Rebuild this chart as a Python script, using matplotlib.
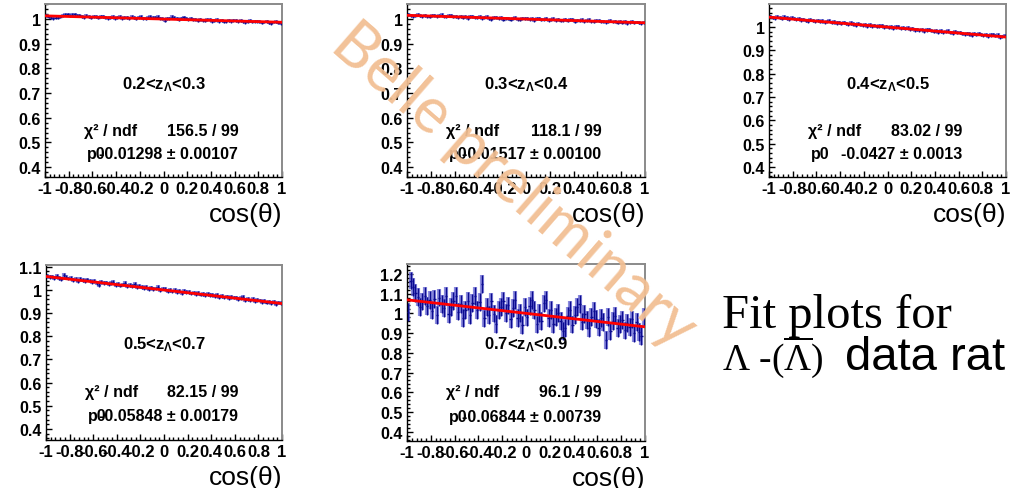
import numpy as np
import matplotlib
matplotlib.use("Agg")
import matplotlib.pyplot as plt
from matplotlib.ticker import MultipleLocator, FixedLocator, FuncFormatter

plt.rcParams['font.family'] = ['Liberation Sans', 'DejaVu Sans']
plt.rcParams['mathtext.fontset'] = 'custom'
plt.rcParams['mathtext.rm'] = 'Liberation Sans'
plt.rcParams['mathtext.it'] = 'Liberation Sans:italic'
plt.rcParams['mathtext.bf'] = 'Liberation Sans:bold'

# ---------------- data ----------------
n_bins = 100
x_low, x_high = -1.0, 1.0

z_labels = ["0.2<z$_\\mathregular{Λ}$<0.3", "0.3<z$_\\mathregular{Λ}$<0.4",
            "0.4<z$_\\mathregular{Λ}$<0.5", "0.5<z$_\\mathregular{Λ}$<0.7",
            "0.7<z$_\\mathregular{Λ}$<0.9"]
chi2_text = ["156.5 / 99", "118.1 / 99", "83.02 / 99", "82.15 / 99", "96.1 / 99"]
p0_values = [-0.01298, -0.01517, -0.0427, -0.05848, -0.06844]
p0_text = ["-0.01298 ± 0.00107", "-0.01517 ± 0.00100", "-0.0427 ± 0.0013",
           "-0.05848 ± 0.00179", "-0.06844 ± 0.00739"]
bin_errors = [0.006, 0.006, 0.007, 0.008, 0.045]
y_limits = [(0.360, 1.061), (0.360, 1.061), (0.357, 1.099), (0.352, 1.108), (0.353, 1.250)]
y_tick_values = [[0.4, 0.5, 0.6, 0.7, 0.8, 0.9, 1.0],
                 [0.4, 0.5, 0.6, 0.7, 0.8, 0.9, 1.0],
                 [0.4, 0.5, 0.6, 0.7, 0.8, 0.9, 1.0],
                 [0.4, 0.5, 0.6, 0.7, 0.8, 0.9, 1.0, 1.1],
                 [0.4, 0.5, 0.6, 0.7, 0.8, 0.9, 1.0, 1.1, 1.2]]
x_tick_values = [-1, -0.8, -0.6, -0.4, -0.2, 0, 0.2, 0.4, 0.6, 0.8, 1]

ratio_z23 = [
    1.015, 1.010, 1.006, 1.004, 1.005, 1.006, 1.009, 1.015, 1.018, 1.020,
    1.014, 1.017, 1.019, 1.013, 1.016, 1.011, 1.008, 1.013, 1.009, 1.006,
    1.010, 1.009, 1.006, 1.011, 1.012, 1.007, 1.003, 1.006, 1.009, 1.003,
    1.006, 1.009, 1.003, 1.005, 1.008, 1.004, 1.009, 1.006, 1.001, 1.008,
    1.009, 1.004, 1.001, 1.006, 1.010, 1.005, 1.007, 1.010, 1.004, 1.001,
    0.994, 1.002, 1.004, 1.009, 1.006, 1.003, 0.998, 1.004, 1.007, 1.003,
    0.999, 1.003, 0.998, 0.999, 0.994, 1.000, 0.996, 0.993, 0.997, 0.998,
    0.991, 0.994, 0.998, 0.992, 0.995, 0.989, 0.991, 0.995, 0.991, 0.995,
    0.996, 0.991, 0.994, 0.992, 0.987, 0.990, 0.993, 0.988, 0.992, 0.991,
    0.990, 0.985, 0.988, 0.991, 0.986, 0.983, 0.988, 0.990, 0.985, 0.982]

ratio_z34 = [
    1.019, 1.016, 1.012, 1.014, 1.017, 1.013, 1.011, 1.015, 1.012, 1.010,
    1.013, 1.016, 1.011, 1.014, 1.017, 1.012, 1.009, 1.013, 1.015, 1.010,
    1.012, 1.008, 1.011, 1.006, 1.009, 1.004, 1.010, 1.012, 1.007, 1.005,
    1.009, 1.003, 1.007, 1.010, 1.004, 1.000, 1.006, 1.008, 1.003, 1.005,
    0.998, 1.004, 1.001, 0.997, 1.003, 1.006, 1.000, 0.998, 1.003, 1.001,
    1.004, 0.999, 1.002, 0.996, 1.001, 1.003, 0.997, 1.000, 1.004, 0.995,
    0.998, 1.001, 0.995, 0.999, 0.993, 0.996, 1.000, 0.994, 0.997, 0.999,
    0.990, 0.996, 0.993, 0.997, 0.991, 0.994, 0.998, 0.992, 0.989, 0.994,
    0.993, 0.989, 0.992, 0.987, 0.990, 0.994, 0.988, 0.991, 0.986, 0.990,
    0.985, 0.989, 0.983, 0.987, 0.990, 0.984, 0.988, 0.986, 0.983, 0.987]

ratio_z45 = [
    1.046, 1.040, 1.037, 1.044, 1.041, 1.036, 1.043, 1.039, 1.035, 1.040,
    1.038, 1.033, 1.036, 1.030, 1.034, 1.028, 1.026, 1.032, 1.029, 1.025,
    1.029, 1.023, 1.026, 1.020, 1.024, 1.027, 1.019, 1.022, 1.017, 1.021,
    1.014, 1.020, 1.016, 1.012, 1.018, 1.013, 1.008, 1.014, 1.011, 1.007,
    1.011, 1.005, 1.009, 1.003, 1.007, 1.001, 1.005, 1.008, 0.999, 1.003,
    0.997, 1.002, 0.996, 1.000, 1.004, 0.995, 0.998, 0.993, 0.997, 0.990,
    0.994, 0.988, 0.991, 0.986, 0.989, 0.983, 0.987, 0.990, 0.984, 0.981,
    0.985, 0.979, 0.983, 0.977, 0.981, 0.984, 0.978, 0.975, 0.980, 0.976,
    0.977, 0.972, 0.969, 0.974, 0.970, 0.966, 0.971, 0.968, 0.973, 0.969,
    0.964, 0.968, 0.962, 0.966, 0.969, 0.963, 0.967, 0.958, 0.961, 0.964]

ratio_z57 = [
    1.062, 1.055, 1.058, 1.051, 1.060, 1.053, 1.049, 1.064, 1.055, 1.050,
    1.052, 1.043, 1.047, 1.040, 1.049, 1.044, 1.038, 1.046, 1.041, 1.035,
    1.038, 1.031, 1.022, 1.035, 1.029, 1.033, 1.026, 1.030, 1.035, 1.023,
    1.027, 1.019, 1.024, 1.032, 1.018, 1.022, 1.016, 1.026, 1.012, 1.018,
    1.014, 1.008, 1.013, 1.005, 1.011, 1.003, 1.007, 1.012, 1.000, 1.006,
    1.003, 0.996, 1.001, 0.994, 0.999, 0.992, 0.997, 0.988, 0.995, 0.990,
    0.991, 0.985, 0.989, 0.982, 0.986, 0.980, 0.984, 0.977, 0.983, 0.979,
    0.979, 0.973, 0.977, 0.970, 0.974, 0.968, 0.972, 0.965, 0.971, 0.967,
    0.968, 0.961, 0.965, 0.971, 0.957, 0.962, 0.955, 0.960, 0.953, 0.958,
    0.955, 0.949, 0.952, 0.946, 0.950, 0.944, 0.948, 0.941, 0.946, 0.943]

ratio_z79 = [
    1.008, 1.166, 1.135, 1.104, 1.082, 1.031, 1.060, 1.088, 1.037, 1.066,
    1.014, 1.073, 0.991, 1.080, 1.049, 1.027, 1.086, 0.995, 1.033, 1.062,
    1.090, 1.009, 1.048, 0.976, 1.015, 1.064, 0.992, 1.051, 1.089, 1.018,
    1.057, 1.150, 0.974, 1.033, 0.991, 1.060, 0.999, 0.947, 1.016, 1.034,
    1.063, 1.002, 1.040, 0.969, 1.028, 1.066, 0.975, 1.003, 0.942, 1.031,
    0.979, 1.038, 1.067, 1.015, 0.944, 1.002, 0.961, 1.050, 1.068, 0.977,
    1.016, 0.944, 0.983, 1.002, 0.960, 0.909, 0.927, 0.986, 1.015, 0.943,
    0.992, 1.031, 1.049, 0.958, 0.996, 0.965, 0.924, 0.982, 1.011, 0.970,
    0.928, 0.977, 0.956, 0.864, 0.983, 0.911, 0.960, 0.989, 0.927, 0.946,
    0.965, 0.913, 0.952, 0.930, 0.969, 0.898, 0.956, 0.905, 0.884, 0.982]

ratios = [ratio_z23, ratio_z34, ratio_z45, ratio_z57, ratio_z79]

# ---------------- layout (pixel boxes: left, top, right, bottom) ----------------
W, H = 1017, 489
boxes = [(45, 5, 282, 178), (407, 5, 645, 178), (769, 5, 1006, 178),
         (46, 266, 282, 441), (407, 265, 645, 442)]
text_rows = [(0.538, 0.266, 0.133)] * 3 + [(0.548, 0.278, 0.140)] * 2

fig = plt.figure(figsize=(W / 100, H / 100), dpi=100)
fig.patch.set_facecolor('white')

centers = x_low + (np.arange(n_bins) + 0.5) * (x_high - x_low) / n_bins
half_w = 0.5 * (x_high - x_low) / n_bins

def fmt(v, pos):
    return "%g" % v

for i in range(5):
    l, t, r, b = boxes[i]
    ax = fig.add_axes([l / W, 1 - b / H, (r - l) / W, (b - t) / H])
    y = np.array(ratios[i])
    e = bin_errors[i]
    ax.errorbar(centers, y, yerr=e, fmt='none', ecolor='#6464d4', elinewidth=3.0,
                alpha=0.75, capsize=0, zorder=2)
    ax.errorbar(centers, y, yerr=e, xerr=half_w, fmt='none', ecolor='#0b0b8f',
                elinewidth=1.0, capsize=0, zorder=3)
    fx = np.array([x_low, x_high])
    ax.plot(fx, 1 + p0_values[i] * fx, color='#ff0000', lw=2.0, zorder=4)

    ax.set_xlim(x_low, x_high)
    ax.set_ylim(*y_limits[i])
    ax.xaxis.set_major_locator(FixedLocator(x_tick_values))
    ax.xaxis.set_minor_locator(MultipleLocator(0.04))
    ax.yaxis.set_major_locator(FixedLocator(y_tick_values[i]))
    ax.yaxis.set_minor_locator(MultipleLocator(0.02))
    ax.xaxis.set_major_formatter(FuncFormatter(fmt))
    ax.yaxis.set_major_formatter(FuncFormatter(fmt))
    ax.tick_params(which='both', direction='in', top=False, right=False, width=1.0,
                   color='black')
    ax.tick_params(axis='y', labelsize=11.5)
    ax.tick_params(axis='x', labelsize=12)
    ax.tick_params(which='major', length=4.5, pad=3)
    ax.tick_params(which='minor', length=2.3)
    for lab in ax.get_xticklabels() + ax.get_yticklabels():
        lab.set_fontweight('bold')
    for s in ['left', 'bottom']:
        ax.spines[s].set_color('black')
        ax.spines[s].set_linewidth(1.0)
    for s in ['top', 'right']:
        ax.spines[s].set_color('#8a8a8a')
        ax.spines[s].set_linewidth(1.4)

    ly, cy, py = text_rows[i]
    ax.text(0.5, ly, z_labels[i], transform=ax.transAxes, ha='center', va='center',
            fontsize=12, fontweight='bold')
    ax.text(0.165, cy, "χ² / ndf", transform=ax.transAxes, ha='left', va='center',
            fontsize=11.5, fontweight='bold')
    ax.text(0.817, cy, chi2_text[i], transform=ax.transAxes, ha='right', va='center',
            fontsize=11.5, fontweight='bold')
    ax.text(0.178, py, "p0", transform=ax.transAxes, ha='left', va='center',
            fontsize=11.5, fontweight='bold')
    ax.text(0.815, py, p0_text[i], transform=ax.transAxes, ha='right', va='center',
            fontsize=11.5, fontweight='bold')
    # axis title
    fig.text(r / W, 1 - (b + 37) / H, "cos(θ)", ha='right', va='center', fontsize=19)

# right-hand slide text
fig.text(722 / W, 1 - 328 / H, "Fit plots for", family='Liberation Serif',
         fontsize=35, ha='left', va='baseline')
fig.text(722 / W, 1 - 370 / H, "Λ -($\\overline{\\mathregular{Λ}}$)", family='Liberation Serif',
         fontsize=27, ha='left', va='baseline')
fig.text(845 / W, 1 - 370 / H, "data rat", family='Liberation Sans',
         fontsize=34, ha='left', va='baseline')

# watermark
fig.text(514 / W, 1 - 186 / H, "Belle preliminary", family=['Lato', 'DejaVu Sans'],
         fontsize=45, color='#f2bf93', rotation=-41, ha='center', va='center',
         alpha=0.95, zorder=10)

fig.savefig("out.png", dpi=100, facecolor='white')
